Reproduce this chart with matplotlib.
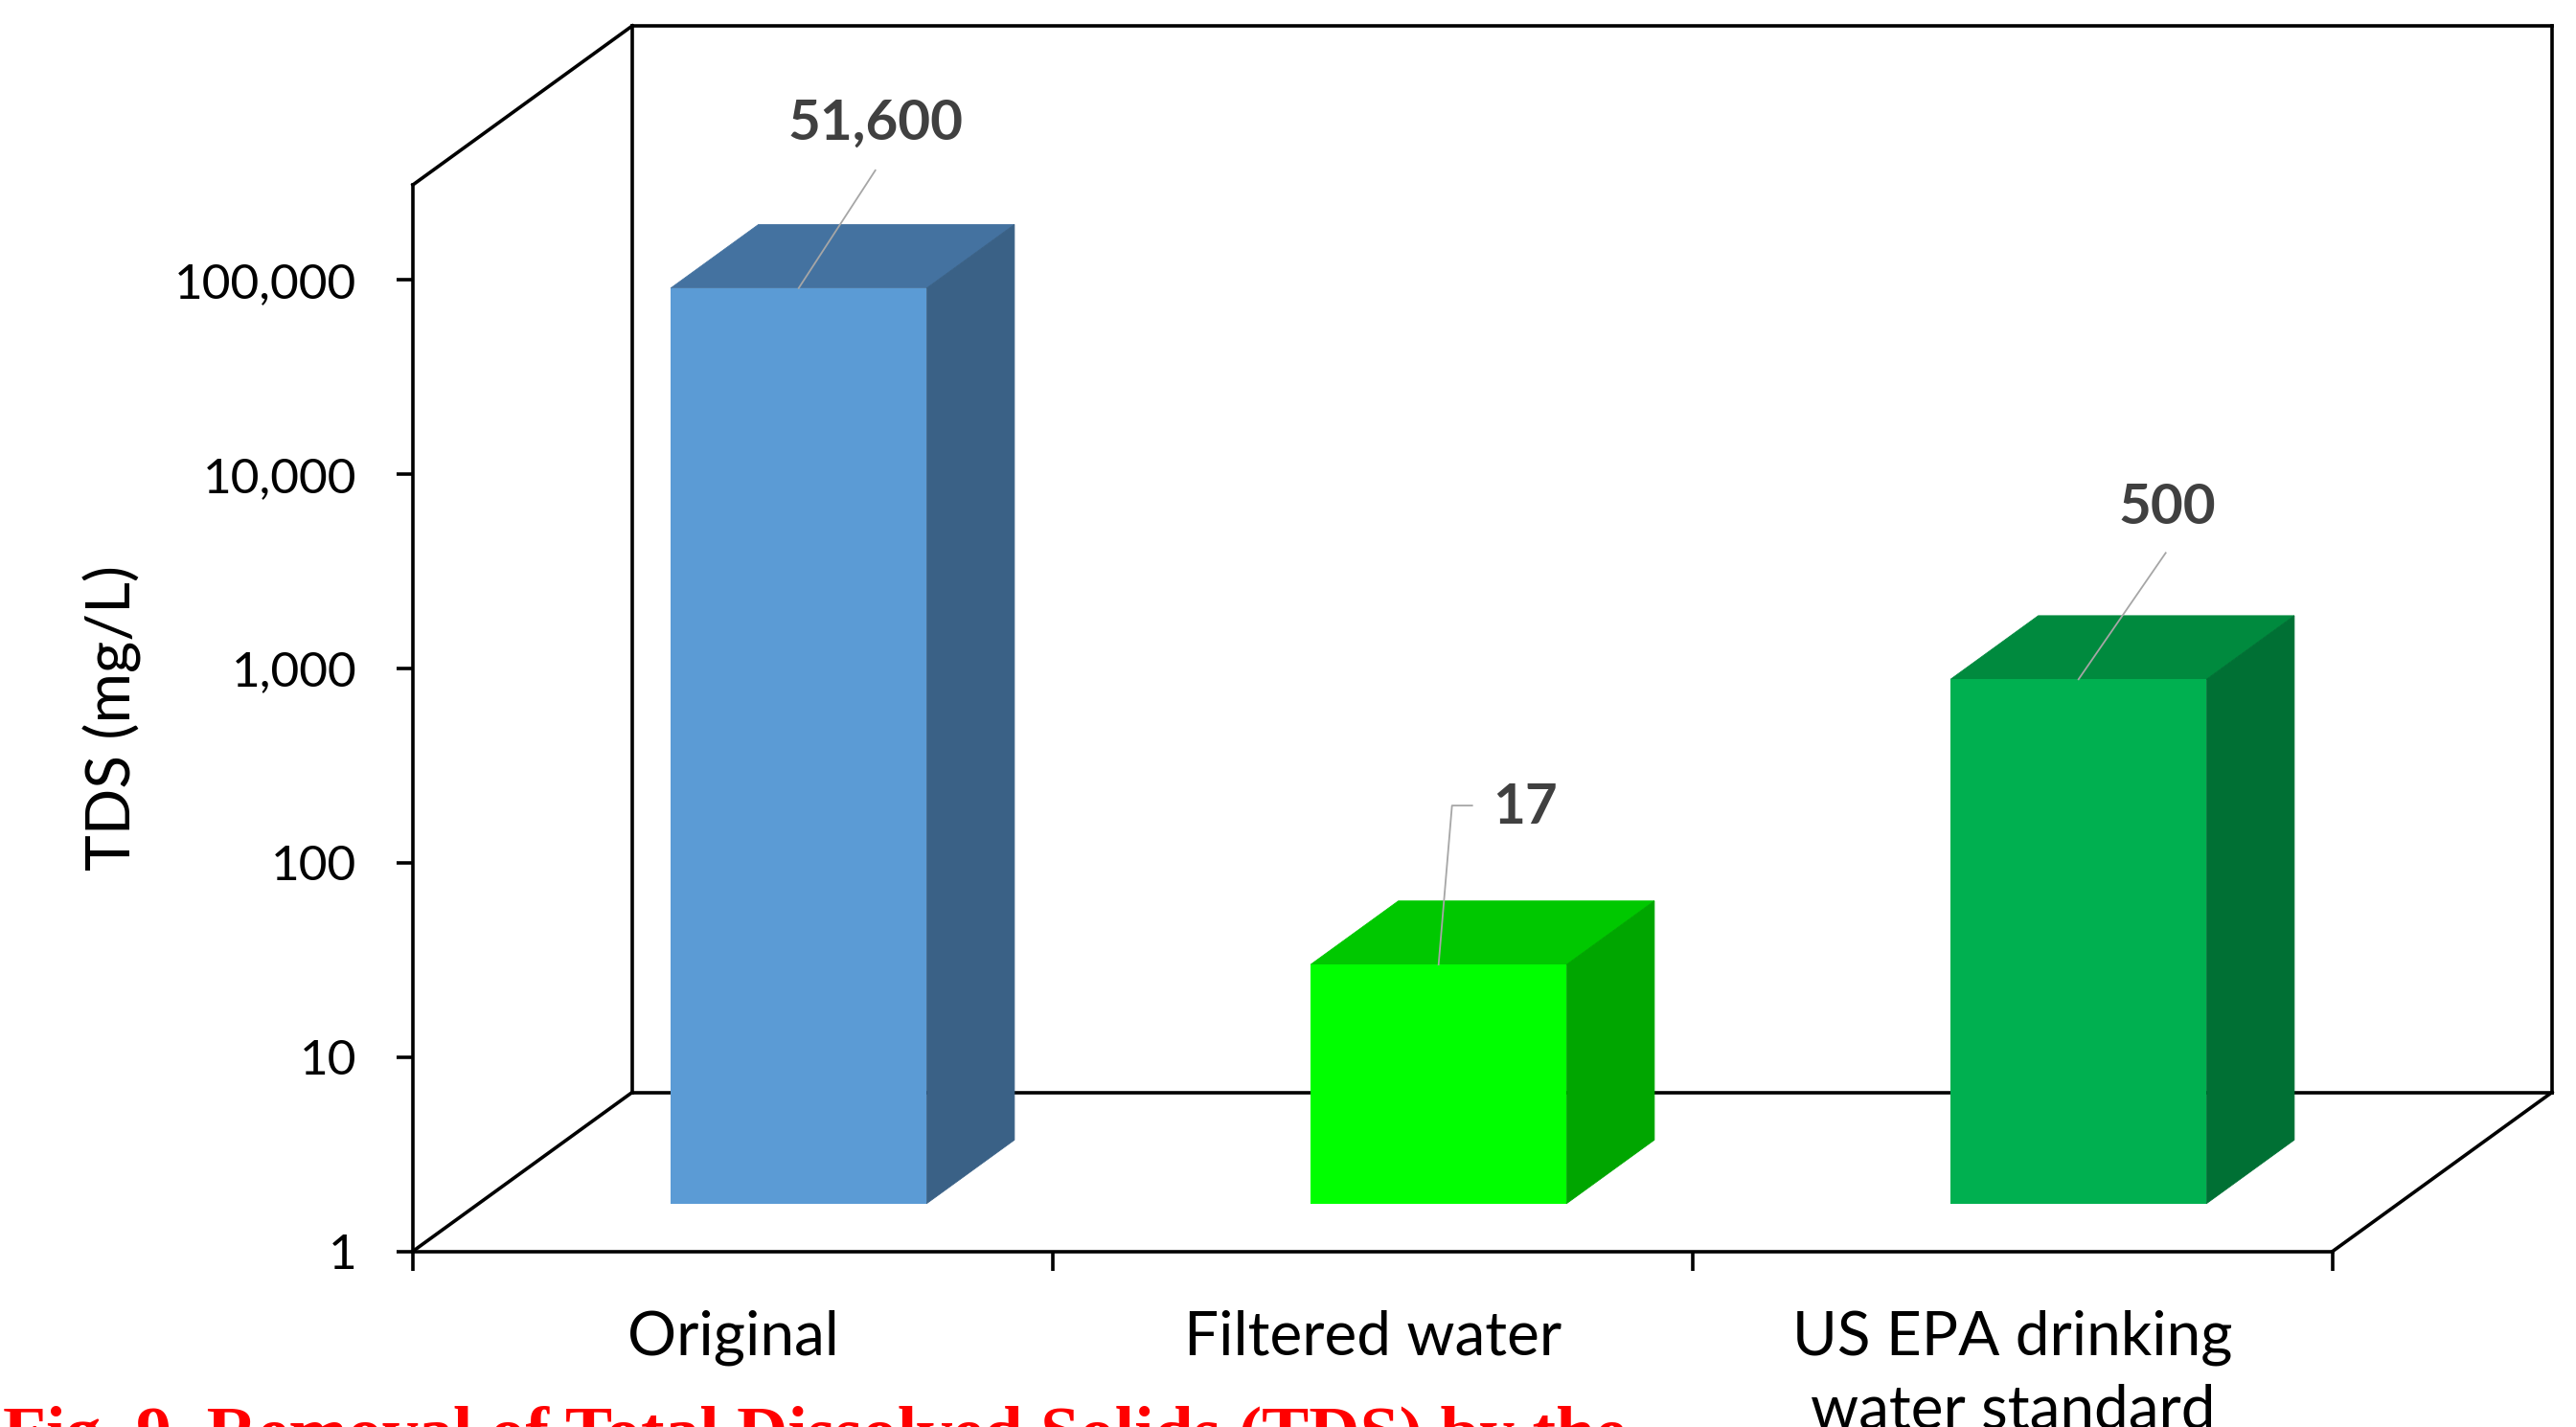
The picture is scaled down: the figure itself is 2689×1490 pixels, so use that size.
import numpy as np
import matplotlib.pyplot as plt
from matplotlib.patches import Polygon
from matplotlib.lines import Line2D
from matplotlib.transforms import Affine2D, IdentityTransform
from matplotlib.ticker import FixedLocator, FuncFormatter, NullLocator

# TDS of the samples (mg/L)
categories = ["Original", "Filtered water", "US EPA drinking\nwater standard"]
tds_values = [51600, 17, 500]
value_labels = ["51,600", "17", "500"]
y_ticks = [1, 10, 100, 1000, 10000, 100000]

# (front, top, side) shade of each bar
face_colors = [
    ("#5B9BD5", "#4472A0", "#3A6186"),
    ("#00FF00", "#00C800", "#00A600"),
    ("#00B050", "#008A3E", "#007034"),
]

# leader line vertices and label centre, in pixels relative to the bar top
leader_paths = [
    [(0, 0), (80, 123)],
    [(0, 0), (14, 166), (35, 166)],
    [(0, 0), (91, 132)],
]
label_offsets = [(80, 172), (90, 164), (93, 179)]

W, H, DPI = 2689, 1490, 100
DEPTH = np.array([229.0, 166.0])   # pixel shift from the front plane to the back wall
BAR_D0, BAR_D1 = 0.30, 0.70        # bar depth, as a fraction of DEPTH
BAR_W = 0.40
Y_TOP = 10 ** 5.49
LW = 2.6

plt.rcParams["font.family"] = ["Lato", "DejaVu Sans"]

fig = plt.figure(figsize=(W / DPI, H / DPI), dpi=DPI)
ax = fig.add_axes([431 / W, 1 - 1306.5 / H, (2435 - 431) / W, (1306.5 - 193) / H])
ax.set_yscale("log")
ax.set_xlim(0, 3)
ax.set_ylim(1, Y_TOP)
ax.set_autoscale_on(False)
ax.patch.set_visible(False)

px = IdentityTransform()


def proj(x, v, d):
    """Data point on the plane at depth d, in display pixels."""
    return ax.transData.transform((x, v)) + d * DEPTH


def edge(p, q):
    ax.add_line(Line2D([p[0], q[0]], [p[1], q[1]], transform=px, color="black",
                       lw=LW, clip_on=False, zorder=1, solid_capstyle="projecting"))


# walls and floor outline
f0b, f0t, f3b = proj(0, 1, 0), proj(0, Y_TOP, 0), proj(3, 1, 0)
b0b, b0t = proj(0, 1, 1), proj(0, Y_TOP, 1)
b3b, b3t = proj(3, 1, 1), proj(3, Y_TOP, 1)
for p, q in [(f0t, b0t), (b0t, b3t), (b3t, b3b), (b3b, b0b), (b0b, b0t),
             (f0b, b0b), (f3b, b3b)]:
    edge(p, q)

# bars: front face with ax.bar, top and side faces as polygons
front_tr = ax.transData + Affine2D().translate(*(BAR_D0 * DEPTH))
for i, (v, (c_front, c_top, c_side)) in enumerate(zip(tds_values, face_colors)):
    xc = i + 0.5
    x0, x1 = xc - BAR_W / 2, xc + BAR_W / 2
    top = [proj(x0, v, BAR_D0), proj(x1, v, BAR_D0), proj(x1, v, BAR_D1), proj(x0, v, BAR_D1)]
    side = [proj(x1, 1, BAR_D0), proj(x1, 1, BAR_D1), proj(x1, v, BAR_D1), proj(x1, v, BAR_D0)]
    ax.add_patch(Polygon(top, closed=True, transform=px, facecolor=c_top,
                         edgecolor=c_top, lw=0.6, clip_on=False, zorder=3))
    ax.add_patch(Polygon(side, closed=True, transform=px, facecolor=c_side,
                         edgecolor=c_side, lw=0.6, clip_on=False, zorder=3))
    ax.bar(xc, v - 1, bottom=1, width=BAR_W, color=c_front, transform=front_tr,
           clip_on=False, zorder=4)

# data labels with leader lines
for i, (v, lab) in enumerate(zip(tds_values, value_labels)):
    base = proj(i + 0.5, v, BAR_D0)
    pts = np.array(leader_paths[i], dtype=float) + base
    ax.add_line(Line2D(pts[:, 0], pts[:, 1], transform=px, color="#A6A6A6",
                       lw=1.3, clip_on=False, zorder=5))
    lx, ly = base + np.array(label_offsets[i])
    ax.text(lx, ly, lab, transform=px, ha="center", va="center", fontsize=42,
            fontweight="bold", color="#404040", zorder=6)

# axes
for s in ["top", "right"]:
    ax.spines[s].set_visible(False)
for s in ["left", "bottom"]:
    ax.spines[s].set_linewidth(LW)
    ax.spines[s].set_zorder(2)

ax.yaxis.set_major_locator(FixedLocator(y_ticks))
ax.yaxis.set_minor_locator(NullLocator())
ax.yaxis.set_major_formatter(FuncFormatter(lambda v, _: f"{v:,.0f}"))
ax.tick_params(axis="y", which="major", direction="out", length=12.2, width=LW,
               pad=30, labelsize=37, labelcolor="black")

ax.set_xticks([0, 1, 2, 3])
ax.set_xticklabels([])
ax.set_xticks([0.5, 1.5, 2.5], minor=True)
ax.set_xticklabels(categories, minor=True, linespacing=1.4)
ax.tick_params(axis="x", which="major", direction="out", length=14.4, width=LW)
ax.tick_params(axis="x", which="minor", length=0, pad=44, labelsize=46)

ax.set_ylabel("TDS (mg/L)", fontsize=46)
ax.yaxis.set_label_coords(-0.141, 0.5)

fig.text(0.001, -0.020, "Fig. 9. Removal of Total Dissolved Solids (TDS) by the",
         family="Liberation Serif", fontweight="bold", color="red", fontsize=53,
         ha="left", va="baseline")

fig.savefig("out.png", dpi=DPI)
